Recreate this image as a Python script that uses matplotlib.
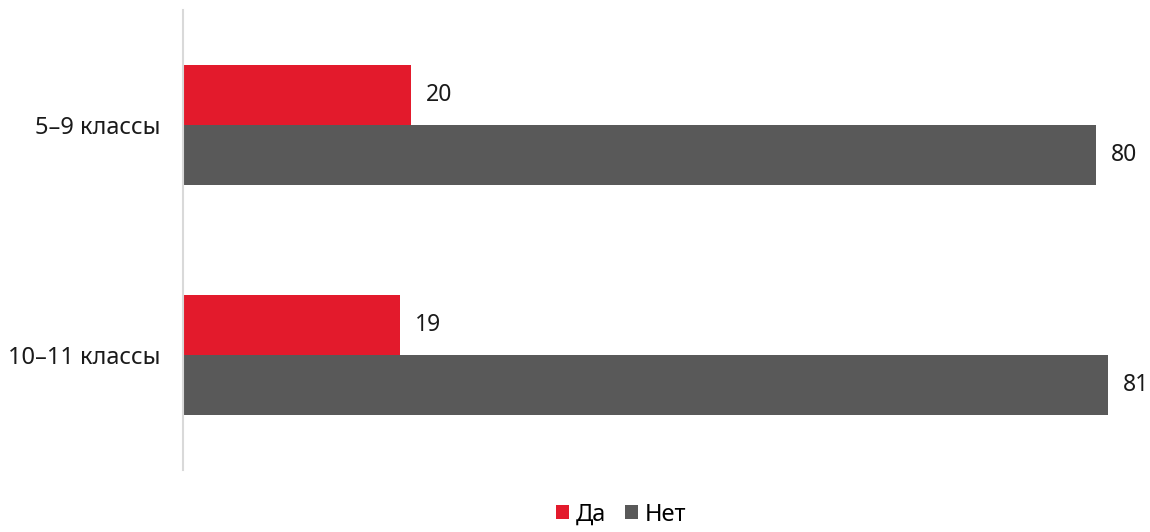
import matplotlib
matplotlib.use('Agg')
import matplotlib.pyplot as plt
import numpy as np

plt.rcParams['font.family'] = ['Noto Sans', 'DejaVu Sans']

categories = ['5–9 классы', '10–11 классы']
series_names = ['Да', 'Нет']
da_values = [20, 19]
net_values = [80, 81]
colors = ['#e31a2c', '#595959']


def main():
	fig = plt.figure(figsize=(11.5, 5.32), dpi=100)
	ax = fig.add_axes([0.159, 0.1165, 0.834, 0.8647])

	y = np.arange(len(categories))
	h = 0.259
	bars_da = ax.barh(y - h / 2, da_values, height=h, color=colors[0], label=series_names[0])
	bars_net = ax.barh(y + h / 2, net_values, height=h, color=colors[1], label=series_names[1])

	for bars in (bars_da, bars_net):
		for b in bars:
			ax.text(b.get_width() + 1.3, b.get_y() + b.get_height() / 2, str(int(b.get_width())),
				va='center', ha='left', fontsize=16.5, color='#1a1a1a')

	ax.set_xlim(0, 84)
	ax.set_ylim(1.5, -0.5)
	ax.set_yticks(y)
	ax.set_yticklabels(categories, fontsize=17, color='#1a1a1a')
	ax.tick_params(axis='y', length=0, pad=16)
	ax.set_xticks([])
	for s in ('top', 'right', 'bottom'):
		ax.spines[s].set_visible(False)
	ax.spines['left'].set_color('#d9d9d9')
	ax.spines['left'].set_linewidth(1.5)

	fig.legend(loc='lower center', bbox_to_anchor=(0.54, -0.03), ncol=2, frameon=False,
		fontsize=17, handlelength=0.55, handleheight=0.55, handletextpad=0.3, columnspacing=0.8)

	fig.savefig('out.png', dpi=100)


if __name__ == '__main__':
	main()
